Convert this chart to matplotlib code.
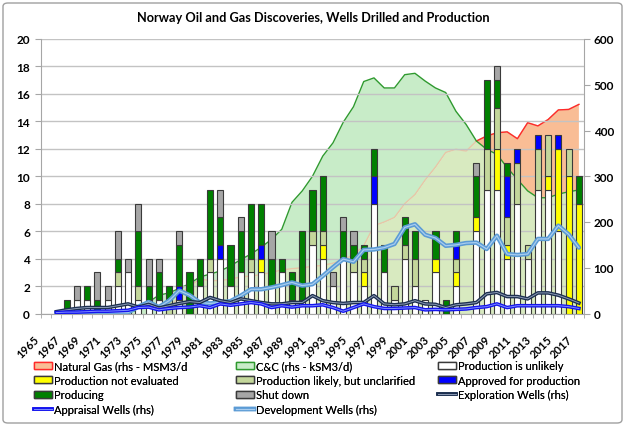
import numpy as np
import matplotlib
matplotlib.use("Agg")
import matplotlib.pyplot as plt
from matplotlib.patches import Patch, FancyBboxPatch
from matplotlib.lines import Line2D
from matplotlib.legend_handler import HandlerTuple
from matplotlib.transforms import ScaledTranslation

plt.rcParams['font.family'] = ['Lato', 'DejaVu Sans']

years = list(range(1965, 2018))

# Discoveries (lhs, count) by status
unlikely = [0,0,0,1,1, 0,1,2,3,1, 1,1,0,1,0, 2,3,4,2,3, 3,3,2,3,1, 1,5,4,2,4,
            3,2,8,3,1, 4,2,1,3,0, 2,0,6,9,9, 4,8,4,9,9, 6,0,0]
not_eval = [0,0,0,0,0, 0,0,0,0,0, 0,0,0,0,0, 0,0,0,0,0, 0,1,0,0,0, 0,0,1,0,0,
            0,1,0,0,0, 0,0,0,1,0, 1,0,1,0,3, 1,0,0,0,1, 6,10,8]
likely = [0,0,0,0,0, 0,0,1,0,1, 0,0,1,0,0, 0,1,0,0,0, 1,0,0,0,0, 0,1,1,0,0,
          1,1,0,0,1, 1,2,0,0,0, 1,0,0,3,3, 2,3,1,3,3, 0,2,0]
approved = [0,0,0,0,0, 0,0,0,0,0, 0,0,0,1,0, 0,0,1,0,0, 0,1,0,0,0, 0,0,0,0,0,
            0,0,2,0,0, 0,0,0,0,0, 1,0,0,0,0, 3,1,0,1,0, 1,0,0]
producing = [0,0,1,0,1, 1,0,1,0,4, 1,2,1,3,3, 2,5,2,3,3, 4,3,2,1,2, 5,3,4,0,2,
             1,1,2,2,0, 2,2,0,2,1, 1,0,3,5,2, 1,0,0,0,0, 0,0,2]
shut_down = [0,0,0,1,0, 2,1,2,1,2, 2,1,0,1,0, 0,0,2,0,1, 0,0,2,0,0, 0,0,0,1,1,
             1,0,0,0,0, 0,0,0,0,0, 0,0,1,0,1, 0,0,0,0,0, 0,0,0]

# Production (rhs)
gas = [0,0,0,0,0, 0,0,0,0,0, 0,0,8,40,60, 75,72,72,75,80, 82,85,90,95,98,
       100,103,105,110,118, 128,148,192,200,210, 240,260,292,320,352,
       359,355,377,388,395, 397,382,417,410,424, 445,446,457]
cc = [0,0,0,0,0, 0,1,5,5,6, 25,40,45,55,65, 80,86,93,104,118, 130,145,162,184,243,
      268,300,344,373,418, 452,507,515,493,493, 522,525,508,493,483,
      442,413,377,359,348, 319,293,268,253,253, 261,266,270]

# Wells drilled (rhs)
exploration = [None,4,8,11,13, 13,13,17,21,14, 20,12,17,22,26, 24,35,28,24,32,
               28,24,21,21,24, 24,39,28,24,22, 24,24,39,21,19, 21,28,21,20,13,
               19,21,24,43,46, 37,37,32,45,45, 40,32,23]
appraisal = [None,2,3,3,4, 5,5,6,7,13, 14,8,11,13,14, 17,13,21,18,21,
             24,21,13,17,14, 17,17,19,13,5, 13,21,15,11,11, 12,13,8,9,8,
             9,10,13,15,21, 13,17,17,17,17, 17,15,11]
development = [None,2,2,2,2, 2,2,2,2,15, 25,14,28,50,40, 24,22,24,27,39,
               53,53,57,62,68, 61,64,82,101,119, 113,139,140,144,152, 188,195,172,165,148,
               150,154,155,141,170, 130,128,130,163,163, 192,173,144]

x = np.array(years, dtype=float)
gas_a = np.array(gas, dtype=float)
cc_a = np.array(cc, dtype=float)

fig = plt.figure(figsize=(6.26, 4.27), dpi=100)
W, H = 626.0, 427.0
pos = [41/W, 1-314.5/H, 543/W, 274.5/H]
ax1 = fig.add_axes(pos)
ax2 = ax1.twinx()
ax3 = ax1.twinx()
ax2.set_zorder(1); ax1.set_zorder(2); ax3.set_zorder(3)
ax1.patch.set_visible(False)
ax3.patch.set_visible(False)

# ---- areas (rhs)
c_overlap = '#d8eac0'
c_mint = '#c8ecc8'
c_orange = '#f9bd95'
ov = np.minimum(gas_a, cc_a)
ax2.fill_between(x, 0, ov, color=c_overlap, lw=0)
ax2.fill_between(x, gas_a, cc_a, where=cc_a >= gas_a, interpolate=True, color=c_mint, lw=0)
ax2.fill_between(x, cc_a, gas_a, where=gas_a >= cc_a, interpolate=True, color=c_orange, lw=0)
ax2.plot(x, np.where(gas_a > 0, gas_a, np.nan), color='#e8c6a6', lw=1)
ax2.plot(x, np.where((gas_a >= cc_a) & (gas_a > 0), gas_a, np.nan), color='#ff2a2a', lw=1)
ax2.plot(x, np.where(cc_a > 0, cc_a, np.nan), color='#2f9a2f', lw=1)
ax2.set_ylim(0, 600)
ax2.set_yticks(range(0, 601, 100))

# ---- bars (lhs)
series = [(unlikely, '#ffffff'), (not_eval, '#ffff00'), (likely, '#c4d79b'),
          (approved, '#0000ff'), (producing, '#008000'), (shut_down, '#a6a6a6')]
bottom = np.zeros(len(years))
for vals, col in series:
    v = np.array(vals, dtype=float)
    idx = v > 0
    ax1.bar(x[idx], v[idx], bottom=bottom[idx], width=0.6, color=col,
            edgecolor='#3a3a3a', linewidth=0.8, zorder=3)
    bottom += v

# ---- wells lines (rhs)
def arr(lst):
    return np.array([np.nan if v is None else v for v in lst], dtype=float)

ax3.plot(x, arr(development), color='#5b9bd5', lw=3.2, solid_capstyle='round')
ax3.plot(x, arr(development), color='#a9cdef', lw=0.9)
ax3.plot(x, arr(exploration), color='#1c2f4f', lw=2.6)
ax3.plot(x, arr(exploration), color='#8d9bb5', lw=0.7)
ax3.plot(x, arr(appraisal), color='#1414ee', lw=2.6)
ax3.plot(x, arr(appraisal), color='#7d8cff', lw=0.7)
ax3.set_ylim(0, 600)
ax3.axis('off')

# ---- axes styling
for a in (ax1, ax2, ax3):
    a.set_xlim(1964.5, 2017.5)
ax1.set_ylim(0, 20)
ax1.set_yticks(range(0, 21, 2))
ax1.grid(axis='y', color='#c3c3c3', lw=1)
ax1.set_axisbelow(True)
grey = '#a6a6a6'
for sp in ['top', 'right']:
    ax1.spines[sp].set_visible(False)
for sp in ['top', 'left', 'bottom']:
    ax2.spines[sp].set_visible(False)
ax1.spines['left'].set_color(grey)
ax1.spines['bottom'].set_color(grey)
ax2.spines['right'].set_color(grey)

ax1.tick_params(axis='y', length=4, color=grey, pad=4, labelsize=8.5)
ax2.tick_params(axis='y', length=4, color=grey, pad=3, labelsize=8.5)
for lab in ax1.get_yticklabels() + ax2.get_yticklabels():
    lab.set_fontweight('bold')

ax1.set_xticks(years[::2])
ax1.set_xticklabels([str(y) for y in years[::2]], rotation=45, ha='right',
                    va='center', rotation_mode='anchor', fontsize=8, fontweight='bold')
ax1.set_xticks(np.arange(1964.5, 2018, 1.0), minor=True)
ax1.tick_params(axis='x', which='major', length=0, pad=17)
ax1.tick_params(axis='x', which='minor', length=3, color=grey)
off = ScaledTranslation(-6/72, 0, fig.dpi_scale_trans)
for lab in ax1.get_xticklabels():
    lab.set_transform(lab.get_transform() + off)

# ---- title
fig.text(0.5, 1-18/H, 'Norway Oil and Gas Discoveries, Wells Drilled and Production',
         ha='center', va='center', fontsize=9.2, fontweight='bold')

# ---- legends
ec = '#3a3a3a'
h_gas = Patch(facecolor=c_orange, edgecolor='#ff2a2a', lw=1)
h_cc = Patch(facecolor=c_mint, edgecolor='#2f9a2f', lw=1)
h_unl = Patch(facecolor='#ffffff', edgecolor=ec, lw=1)
h_ne = Patch(facecolor='#ffff00', edgecolor=ec, lw=1)
h_lik = Patch(facecolor='#c4d79b', edgecolor=ec, lw=1)
h_app = Patch(facecolor='#0000ff', edgecolor=ec, lw=1)
h_pro = Patch(facecolor='#008000', edgecolor=ec, lw=1)
h_shut = Patch(facecolor='#a6a6a6', edgecolor=ec, lw=1)
h_exp = (Line2D([], [], color='#1c2f4f', lw=2.6), Line2D([], [], color='#8d9bb5', lw=0.7))
h_apr = (Line2D([], [], color='#1414ee', lw=2.6), Line2D([], [], color='#7d8cff', lw=0.7))
h_dev = (Line2D([], [], color='#5b9bd5', lw=3.2), Line2D([], [], color='#a9cdef', lw=0.9))

cols = [
    ([h_gas, h_ne, h_pro, h_apr],
     ['Natural Gas (rhs - MSM3/d', 'Production not evaluated', 'Producing', 'Appraisal Wells (rhs)'], 34),
    ([h_cc, h_lik, h_shut, h_dev],
     ['C&C (rhs - kSM3/d)', 'Production likely, but unclarified', 'Shut down', 'Development Wells (rhs)'], 236),
    ([h_unl, h_app, h_exp],
     ['Production is unlikely', 'Approved for production', 'Exploration Wells (rhs)'], 438),
]
for hs, ls, xpx in cols:
    leg = fig.legend(hs, ls, loc='upper left', bbox_to_anchor=(xpx/W, 1-361/H),
                     frameon=False, fontsize=8, borderpad=0, borderaxespad=0,
                     handlelength=1.6, handleheight=0.6, handletextpad=0.2,
                     labelspacing=0.32, handler_map={tuple: HandlerTuple(ndivide=1, pad=0)})
    fig.add_artist(leg)

# ---- figure border
fig.patches.append(FancyBboxPatch((3/W, 3/H), 619/W, 420/H,
                                  boxstyle='round,pad=0,rounding_size=0.008',
                                  transform=fig.transFigure, fill=False,
                                  edgecolor='#a0a0a0', lw=1))

fig.savefig('out.png', dpi=100)
